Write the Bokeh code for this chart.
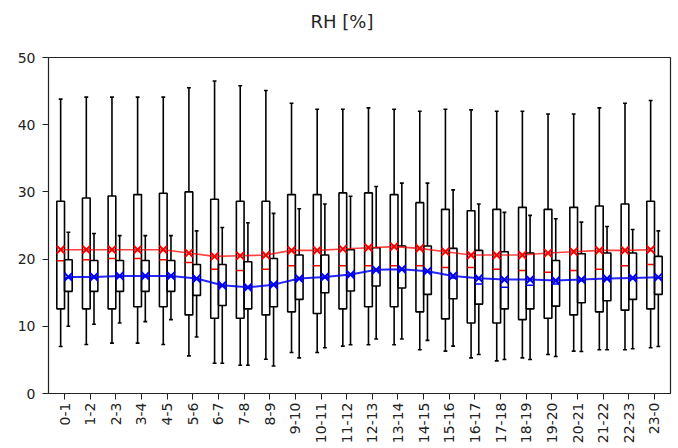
import math
from bokeh.plotting import figure
from bokeh.models import Range1d, FixedTicker, Title, ColumnDataSource
from bokeh.embed import file_html
from bokeh.resources import INLINE

cats = ["0-1", "1-2", "2-3", "3-4", "4-5", "5-6", "6-7", "7-8", "8-9", "9-10",
        "10-11", "11-12", "12-13", "13-14", "14-15", "15-16", "16-17", "17-18",
        "18-19", "19-20", "20-21", "21-22", "22-23", "23-0"]

# Series A (red means / medians)
a_low = [7.0, 7.3, 7.5, 7.5, 7.3, 5.6, 4.5, 4.2, 5.1, 6.1, 6.1, 7.05, 7.25, 7.25,
         6.5, 6.3, 5.3, 4.85, 5.3, 5.8, 6.3, 6.5, 6.5, 6.8]
a_q1 = [12.6, 12.6, 12.6, 12.9, 12.9, 11.7, 11.2, 11.2, 11.7, 12.15, 11.9, 12.6,
        12.9, 12.9, 12.15, 11.1, 10.5, 10.5, 11.0, 11.2, 11.7, 12.15, 12.4, 12.6]
a_med = [19.75, 19.9, 20.1, 20.1, 19.9, 19.5, 18.5, 18.3, 18.5, 19.0, 19.0, 19.0,
         19.0, 19.0, 19.0, 18.75, 18.75, 18.5, 18.3, 18.05, 18.3, 18.5, 19.0, 19.2]
a_q3 = [28.6, 29.1, 29.4, 29.6, 29.8, 30.0, 28.9, 28.6, 28.6, 29.6, 29.6, 29.85,
        29.85, 29.6, 28.4, 27.4, 27.2, 27.4, 27.7, 27.4, 27.7, 27.9, 28.2, 28.6]
a_high = [43.8, 44.1, 44.1, 44.1, 44.1, 45.5, 46.5, 45.8, 45.1, 43.2, 42.3, 42.3,
          42.5, 42.3, 42.0, 42.3, 42.2, 42.0, 42.0, 41.6, 41.6, 42.5, 43.2, 43.6]
a_mean = [21.4, 21.4, 21.4, 21.4, 21.4, 20.9, 20.4, 20.5, 20.6, 21.3, 21.3, 21.5,
          21.7, 21.85, 21.6, 21.1, 20.6, 20.6, 20.6, 20.9, 21.1, 21.3, 21.3, 21.4]

# Series B (blue means / medians)
b_low = [10.0, 10.3, 10.5, 10.7, 11.0, 8.4, 4.5, 4.2, 4.1, 5.3, 6.8, 7.25, 8.1, 8.1,
         7.9, 7.05, 5.8, 5.05, 5.05, 5.5, 6.25, 6.5, 6.65, 7.0]
b_q1 = [15.2, 15.2, 15.2, 15.2, 15.2, 14.6, 13.1, 12.6, 12.9, 14.0, 15.0, 15.25,
        16.0, 15.7, 14.75, 14.1, 13.3, 12.6, 12.6, 13.0, 13.5, 13.8, 14.0, 14.75]
b_med = [17.2, 17.2, 17.4, 17.4, 17.4, 17.0, 16.0, 15.7, 16.1, 17.0, 17.2, 17.6,
         18.3, 18.4, 18.1, 17.2, 16.3, 15.8, 16.1, 16.3, 16.8, 17.0, 17.1, 17.2]
b_q3 = [19.9, 19.8, 19.8, 19.8, 19.8, 19.2, 19.2, 19.6, 20.1, 20.6, 20.6, 21.4,
        21.7, 21.95, 21.95, 21.6, 21.3, 21.1, 20.9, 19.8, 20.8, 20.9, 20.9, 20.4]
b_high = [24.0, 23.8, 23.5, 23.5, 23.5, 24.2, 24.7, 25.4, 26.8, 27.5, 28.2, 29.35,
          30.8, 31.3, 31.3, 30.3, 28.2, 26.95, 26.5, 26.0, 25.5, 24.85, 24.4, 24.2]
b_mean = [17.35, 17.35, 17.5, 17.5, 17.5, 17.1, 16.1, 15.8, 16.2, 17.1, 17.35, 17.7,
          18.4, 18.5, 18.2, 17.5, 17.15, 16.95, 16.95, 16.8, 16.95, 17.1, 17.2, 17.3]

OFFSET = 0.15
BOXW = 0.30
CAPW = 0.15
FONT = "DejaVu Sans"

p = figure(width=672, height=446, output_backend="svg", toolbar_location=None,
           x_range=Range1d(-0.624, 23.624), y_range=Range1d(0, 50),
           min_border_left=48, min_border_right=2, min_border_top=57,
           min_border_bottom=40)

# spacer between the frame and the title (keeps the title high above the frame)
spacer = Title(text=" ", text_font_size="1px", standoff=21)
p.add_layout(spacer, "above")
t = Title(text="RH [%]", align="left", offset=262, text_font=FONT,
          text_font_size="18px", text_font_style="normal", text_color="#262626",
          standoff=4)
p.add_layout(t, "above")

p.xgrid.visible = False
p.ygrid.visible = False
p.outline_line_color = "#222222"
p.outline_line_width = 1.2

n = len(cats)
xs = list(range(n))


def draw_series(pos, low, q1, med, q3, high, mean, color):
    src = ColumnDataSource(dict(
        x=pos,
        left=[v - BOXW / 2 for v in pos], right=[v + BOXW / 2 for v in pos],
        cl=[v - CAPW / 2 for v in pos], cr=[v + CAPW / 2 for v in pos],
        low=low, q1=q1, med=med, q3=q3, high=high, mean=mean))
    p.segment(x0="x", y0="q3", x1="x", y1="high", source=src,
              line_color="black", line_width=1.6)
    p.segment(x0="x", y0="q1", x1="x", y1="low", source=src,
              line_color="black", line_width=1.6)
    p.segment(x0="cl", y0="high", x1="cr", y1="high", source=src,
              line_color="black", line_width=1.6)
    p.segment(x0="cl", y0="low", x1="cr", y1="low", source=src,
              line_color="black", line_width=1.6)
    p.quad(left="left", right="right", bottom="q1", top="q3", source=src,
           fill_alpha=0, line_color="black", line_width=1.6)
    p.segment(x0="left", y0="med", x1="right", y1="med", source=src,
              line_color=color, line_width=1.6)
    return src


src_a = draw_series([x - OFFSET for x in xs], a_low, a_q1, a_med, a_q3, a_high,
                    a_mean, "red")
src_b = draw_series([x + OFFSET for x in xs], b_low, b_q1, b_med, b_q3, b_high,
                    b_mean, "blue")

p.line(x="x", y="mean", source=src_a, line_color="red", line_alpha=0.75,
       line_width=1.6)
p.scatter(x="x", y="mean", source=src_a, marker="x", size=11,
          line_color="red", line_width=2)
p.line(x="x", y="mean", source=src_b, line_color="blue", line_alpha=0.85,
       line_width=2)
p.scatter(x="x", y="mean", source=src_b, marker="x", size=11,
          line_color="blue", line_width=2)

p.xaxis.ticker = FixedTicker(ticks=xs)
p.xaxis.major_label_overrides = {i: c for i, c in enumerate(cats)}
p.xaxis.major_label_orientation = math.pi / 2
p.yaxis.ticker = FixedTicker(ticks=[0, 10, 20, 30, 40, 50])

for ax in (p.xaxis[0], p.yaxis[0]):
    ax.minor_tick_line_color = None
    ax.major_tick_in = 0
    ax.major_tick_out = 6
    ax.major_tick_line_color = "#222222"
    ax.axis_line_color = "#222222"
    ax.major_label_text_font = FONT
    ax.major_label_text_font_size = "14px"
    ax.major_label_text_color = "#222222"
p.xaxis.major_label_standoff = 3
p.yaxis.major_label_standoff = 7

open("out.html", "w").write(file_html(p, INLINE))
